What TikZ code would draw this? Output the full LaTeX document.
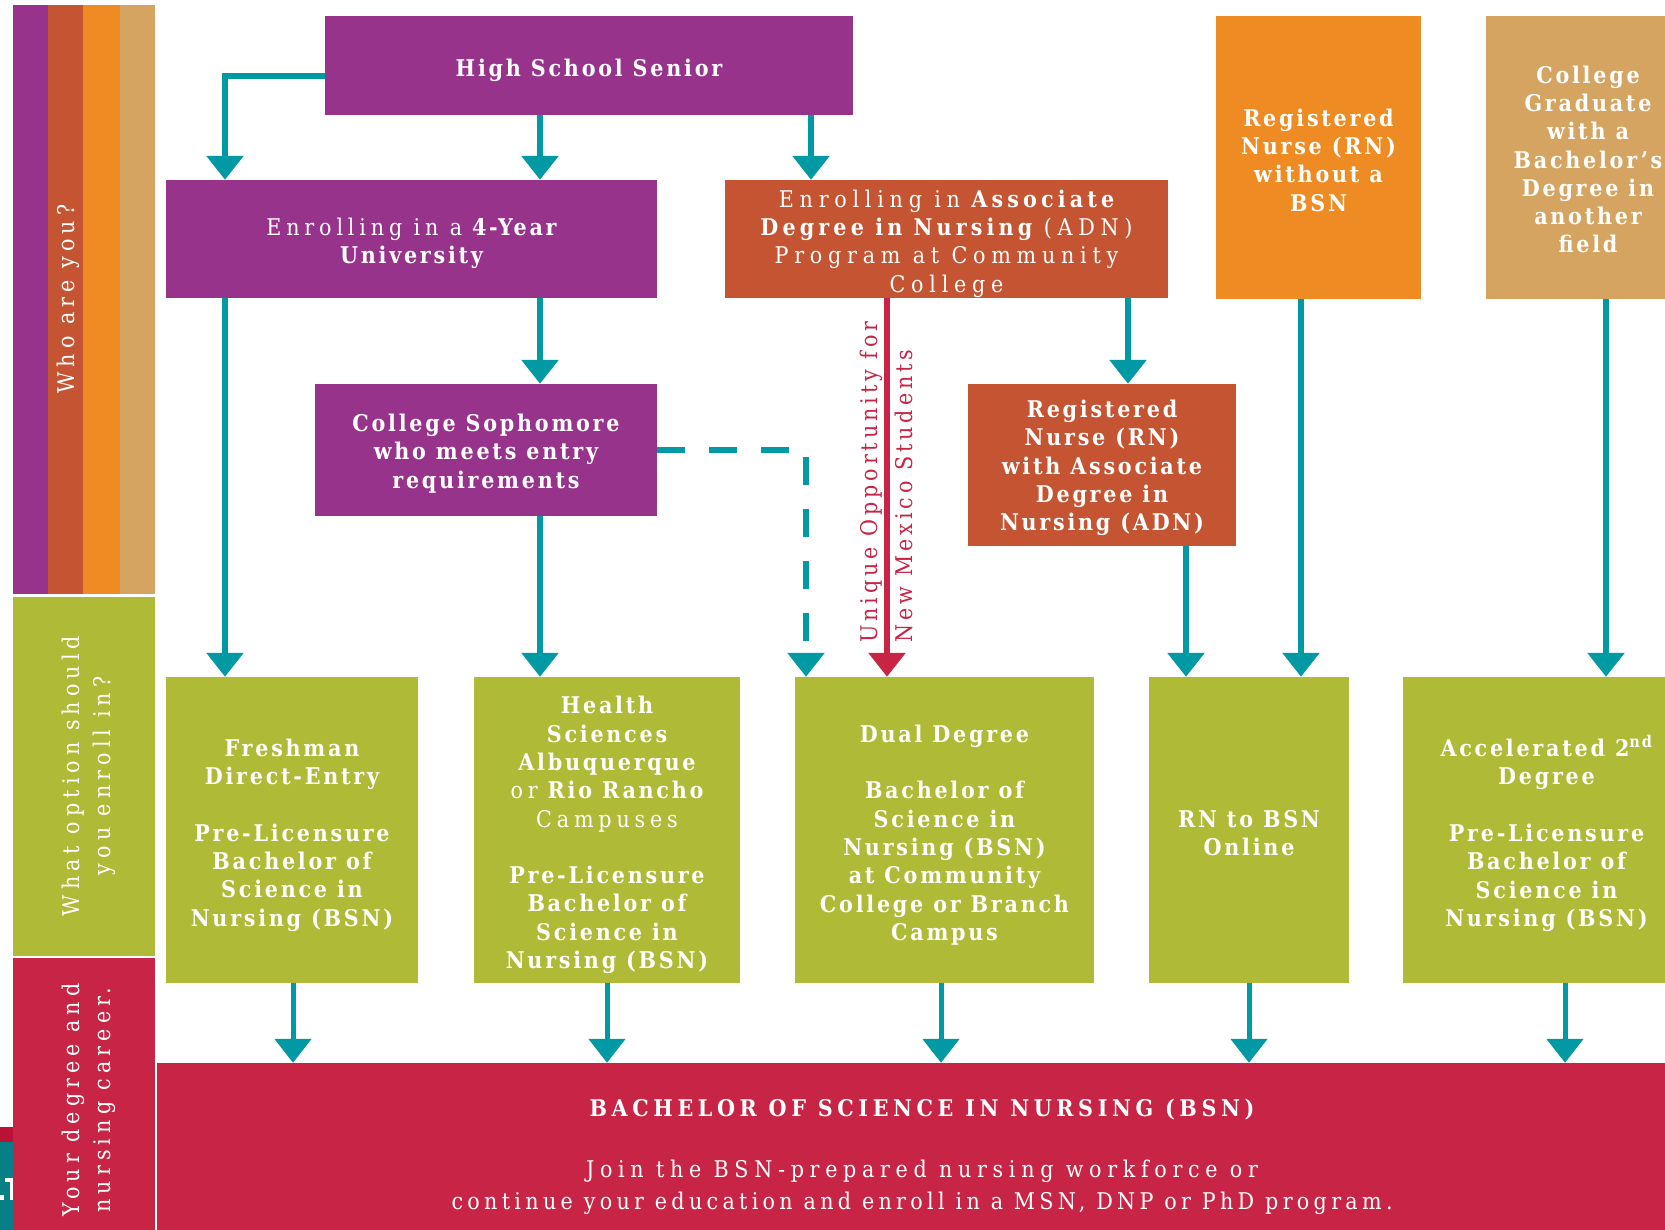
\documentclass[tikz,border=0pt]{standalone}
\usepackage{fontspec}
\usetikzlibrary{arrows.meta}
\newfontfamily\slab[LetterSpace=12]{DejaVu Serif Condensed}
\newfontfamily\slabr[LetterSpace=21]{DejaVu Serif Condensed}
\newfontfamily\slabrw[LetterSpace=25]{DejaVu Serif Condensed}
\newfontfamily\slabw[LetterSpace=20]{DejaVu Serif Condensed}
\newcommand\rg[1]{{\slabr\mdseries #1}}
\newcommand\rgw[1]{{\slabrw\mdseries #1}}
\definecolor{purplec}{RGB}{152,51,140}
\definecolor{rustc}{RGB}{196,84,50}
\definecolor{orangec}{RGB}{238,139,34}
\definecolor{tanc}{RGB}{213,164,97}
\definecolor{greenc}{RGB}{175,186,55}
\definecolor{crimsonc}{RGB}{200,36,69}
\definecolor{tealc}{RGB}{0,153,164}
\definecolor{darkredc}{RGB}{186,17,55}
\definecolor{darktealc}{RGB}{8,126,134}
\tikzset{
  boxbg/.style={rectangle, inner sep=0pt},
  boxtxt/.style={inner sep=0pt, text=white, align=center,
    font=\slab\bfseries\fontsize{23}{28.3}\selectfont},
  arr/.style={draw=tealc, line width=6pt, -{Triangle[width=36pt,length=24pt]}},
  arrb/.style={draw=tealc, line width=5pt, -{Triangle[width=36pt,length=24pt]}},
  arrd/.style={arr, dash pattern=on 28pt off 24pt},
  arrr/.style={draw=crimsonc, line width=6pt, -{Triangle[width=36pt,length=24pt]}},
  side/.style={rotate=90, inner sep=0pt, text=white, align=center,
    font=\slab\addfontfeature{LetterSpace=22}\fontsize{23}{31}\selectfont},
  redlab/.style={rotate=90, inner sep=0pt, text=crimsonc,
    font=\slab\addfontfeature{LetterSpace=17}\fontsize{23}{28}\selectfont},
  bsnt/.style={inner sep=0pt, text=white, font=\slab\fontsize{23}{28}\selectfont},
}
% [text options]{name}{fill}{width}{height}{center}{text drop}{text}
\newcommand\mybox[8][]{%
  \node[boxbg, fill=#3, minimum width=#4pt, minimum height=#5pt] (#2) at (#6) {};
  \node[boxtxt, #1] (#2t) at ([yshift=-#7pt]#2.center) {#8};}
\begin{document}
\begin{tikzpicture}[x=1pt,y=-1pt]
\useasboundingbox (0,0) rectangle (1665,1230);
\clip (0,0) rectangle (1665,1230);
\fill[white] (0,0) rectangle (1665,1230);
% sidebar
\fill[purplec] (13,5) rectangle (48,594);
\fill[rustc] (48,5) rectangle (83,594);
\fill[orangec] (83,5) rectangle (120,594);
\fill[tanc] (120,5) rectangle (155,594);
\fill[greenc] (13,597) rectangle (155,956);
\fill[crimsonc] (13,958) rectangle (155,1230);
\fill[darkredc] (0,1127) rectangle (13,1142);
\fill[darktealc] (0,1142) rectangle (13,1230);
\fill[white] (0,1195) rectangle (4,1200);
\fill[white] (5,1178) rectangle (13,1182);
\fill[white] (10,1178) rectangle (13,1200);
\node[side] (who) at (68,299) {Who are you?};
\node[side] (what) at (89,776) {What option should\\you enroll in?};
\node[side] (your) at (89,1100) {Your degree and\\nursing career.};
% column coordinates
\coordinate (xA) at (225,0);
\coordinate (xB) at (540,0);
\coordinate (xC) at (811,0);
\coordinate (xD) at (806,0);
\coordinate (xE) at (887,0);
\coordinate (xF) at (1128,0);
\coordinate (xG) at (1186,0);
\coordinate (xH) at (1301,0);
\coordinate (xI) at (1606,0);
\coordinate (b1) at (293,0);
\coordinate (b2) at (607,0);
\coordinate (b3) at (941,0);
\coordinate (b4) at (1249,0);
\coordinate (b5) at (1565,0);
% boxes
\mybox{hss}{purplec}{528}{99}{589,65.5}{4.5}{High School Senior}
\mybox{uni}{purplec}{491}{118}{411.5,239}{4.5}{\rg{Enrolling in a} 4-Year\\University}
\mybox[font=\slab\addfontfeature{LetterSpace=18}\bfseries\fontsize{23}{28.3}\selectfont]{adn}{rustc}{443}{118}{946.5,239}{4.5}{\rgw{Enrolling in} Associate\\Degree in Nursing \rgw{(ADN)}\\\rgw{Program at Community}\\\rgw{College}}
\mybox{rnw}{orangec}{205}{283}{1318.5,157.5}{2.5}{Registered\\Nurse (RN)\\without a\\BSN}
\mybox{grad}{tanc}{204}{283}{1588,157.5}{2}{College\\Graduate\\with a\\Bachelor’s\\Degree in\\another\\field}
\mybox{soph}{purplec}{342}{132}{486,450}{3.5}{College Sophomore\\who meets entry\\requirements}
\mybox{rnadn}{rustc}{268}{162}{1102,465}{3}{Registered\\Nurse (RN)\\with Associate\\Degree in\\Nursing (ADN)}
\mybox{fresh}{greenc}{252}{306}{292,830}{5}{Freshman\\Direct-Entry\\[28.3pt]Pre-Licensure\\Bachelor of\\Science in\\Nursing (BSN)}
\mybox{health}{greenc}{266}{306}{607,830}{5}{Health\\Sciences\\Albuquerque\\\rg{or} Rio Rancho\\\rg{Campuses}\\[28.3pt]Pre-Licensure\\Bachelor of\\Science in\\Nursing (BSN)}
\mybox{dual}{greenc}{299}{306}{944.5,830}{5}{Dual Degree\\[28.3pt]Bachelor of\\Science in\\Nursing (BSN)\\at Community\\College or Branch\\Campus}
\mybox{rntobsn}{greenc}{200}{306}{1249,830}{3}{RN to BSN\\Online}
\mybox{accel}{greenc}{287}{306}{1546.5,830}{3.5}{Accelerated 2\textsuperscript{nd}\\Degree\\[28.3pt]Pre-Licensure\\Bachelor of\\Science in\\Nursing (BSN)}
\node[boxbg, fill=crimsonc, minimum width=1533pt, minimum height=177pt] (bsn) at (923.5,1151.5) {};
\node[bsnt, font=\slabw\bfseries\fontsize{23}{28}\selectfont, anchor=base] (bsntitle) at (922,1116.5) {BACHELOR OF SCIENCE IN NURSING (BSN)};
\node[bsnt, font=\slab\addfontfeature{LetterSpace=24.7}\fontsize{23}{28}\selectfont, anchor=base] (bsnl1) at (922,1177.5) {Join the BSN-prepared nursing workforce or};
\node[bsnt, font=\slab\addfontfeature{LetterSpace=18.7}\fontsize{23}{28}\selectfont, anchor=base] (bsnl2) at (922,1209.5) {continue your education and enroll in a MSN, DNP or PhD program.};
% connectors
\draw[arr] ([yshift=-11pt]hss.west) -| (uni.north -| xA);
\draw[arr] (hss.south -| xB) -- (uni.north -| xB);
\draw[arr] (hss.south -| xC) -- (adn.north -| xC);
\draw[arr] (uni.south -| xA) -- (fresh.north -| xA);
\draw[arr] (uni.south -| xB) -- (soph.north -| xB);
\draw[arr] (soph.south -| xB) -- (health.north -| xB);
\draw[arrd] (soph.east) -| (dual.north -| xD);
\draw[arrr] (adn.south -| xE) -- (dual.north -| xE);
\draw[arr] (adn.south -| xF) -- (rnadn.north -| xF);
\draw[arr] (rnadn.south -| xG) -- (rntobsn.north -| xG);
\draw[arr] (rnw.south -| xH) -- (rntobsn.north -| xH);
\draw[arr] (grad.south -| xI) -- (accel.north -| xI);
\draw[arrb] (fresh.south -| b1) -- (bsn.north -| b1);
\draw[arrb] (health.south -| b2) -- (bsn.north -| b2);
\draw[arrb] (dual.south -| b3) -- (bsn.north -| b3);
\draw[arrb] (rntobsn.south -| b4) -- (bsn.north -| b4);
\draw[arrb] (accel.south -| b5) -- (bsn.north -| b5);
% red labels
\node[redlab, anchor=base west] (uniq) at (877,643) {Unique Opportunity for};
\node[redlab, anchor=base west] (nmex) at (912,643) {New Mexico Students};
\end{tikzpicture}
\end{document}
